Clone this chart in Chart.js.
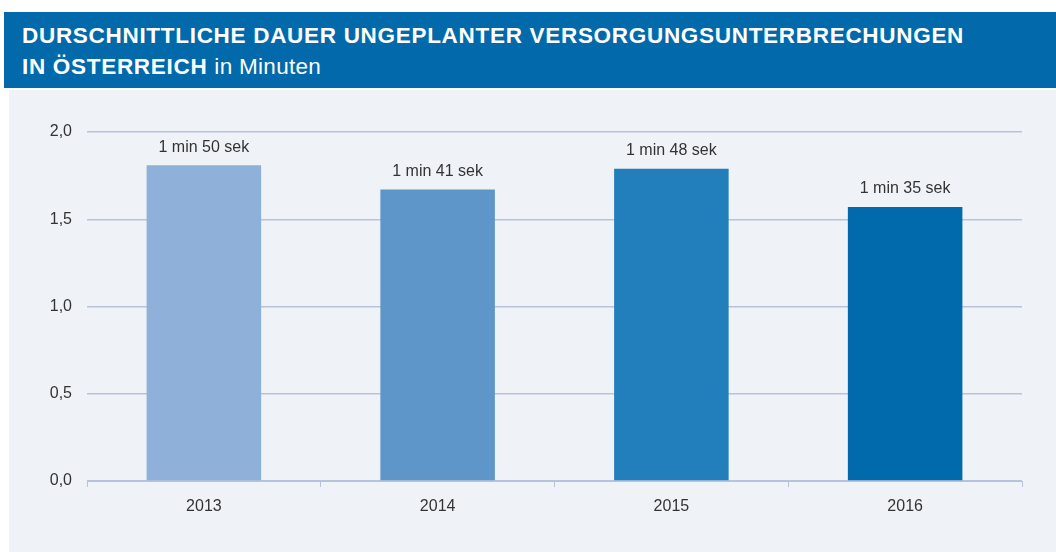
<!DOCTYPE html>
<html lang="de">
<head>
<meta charset="utf-8">
<script src="https://cdn.jsdelivr.net/npm/chart.js@4/dist/chart.umd.min.js"></script>
<style>
  body { margin: 0; background: #fff; width: 1056px; height: 552px; overflow: hidden; position: relative; font-family: "Liberation Sans", Arial, sans-serif; }
  #header { position: absolute; left: 4px; top: 12px; width: 1052px; height: 76px; background: #026aab; color: #fff; box-sizing: border-box; padding: 8px 0 0 18px; font-size: 22.5px; line-height: 31px; letter-spacing: 0.7px; }
  #header b { font-weight: bold; }
  #header span { letter-spacing: 0.3px; }
  #panel { position: absolute; left: 9px; top: 90px; width: 1047px; height: 462px; background: #eff3f8; }
</style>
</head>
<body>
<div id="header">
  <div><b>DURSCHNITTLICHE DAUER UNGEPLANTER VERSORGUNGSUNTERBRECHUNGEN</b></div>
  <div><b>IN ÖSTERREICH</b> <span>in Minuten</span></div>
</div>
<div id="panel"><canvas id="chart" width="1047" height="462"></canvas></div>
<script>
// 年ごとのデータ
const years = ['2013', '2014', '2015', '2016'];
const minutes = [1.81, 1.67, 1.79, 1.57];
const valueLabels = ['1 min 50 sek', '1 min 41 sek', '1 min 48 sek', '1 min 35 sek'];
const barColors = ['#8fb0d9', '#5f96c9', '#237fbc', '#006aac'];

const gridColor = '#b7c3dc';
const textColor = '#333333';

// 棒の上にラベルを描画
const valueLabelPlugin = {
    id: 'valueLabels',
    afterDatasetsDraw(chart) {
        const ctx = chart.ctx;
        const meta = chart.getDatasetMeta(0);
        ctx.save();
        ctx.font = '16px "Liberation Sans", Arial, sans-serif';
        ctx.fillStyle = textColor;
        ctx.textAlign = 'center';
        ctx.textBaseline = 'middle';
        meta.data.forEach((bar, i) => {
            ctx.fillText(valueLabels[i], bar.x, bar.y - 18);
        });
        ctx.restore();
    }
};

Chart.defaults.font.family = '"Liberation Sans", Arial, sans-serif';
Chart.defaults.font.size = 16;
Chart.defaults.color = textColor;

new Chart(document.getElementById('chart'), {
    type: 'bar',
    data: {
        labels: years,
        datasets: [{
            data: minutes,
            backgroundColor: barColors,
            barPercentage: 0.49,
            categoryPercentage: 1
        }]
    },
    options: {
        responsive: false,
        animation: false,
        layout: {
            padding: { top: 42, right: 34, bottom: 0, left: 0 }
        },
        plugins: {
            legend: { display: false },
            tooltip: { enabled: false }
        },
        scales: {
            x: {
                grid: {
                    offset: true,
                    drawOnChartArea: false,
                    drawTicks: true,
                    tickLength: 6,
                    color: gridColor
                },
                border: { color: gridColor, width: 1 },
                ticks: { padding: 10, color: textColor },
                afterFit(scale) { scale.height = 71; }
            },
            y: {
                min: 0,
                max: 2,
                grid: {
                    color: gridColor,
                    lineWidth: 1.5,
                    drawTicks: false
                },
                border: { display: false },
                ticks: {
                    stepSize: 0.5,
                    padding: 15,
                    color: textColor,
                    callback: v => v.toFixed(1).replace('.', ',')
                },
                afterFit(scale) { scale.width = 78; }
            }
        }
    },
    plugins: [valueLabelPlugin]
});
</script>
</body>
</html>
